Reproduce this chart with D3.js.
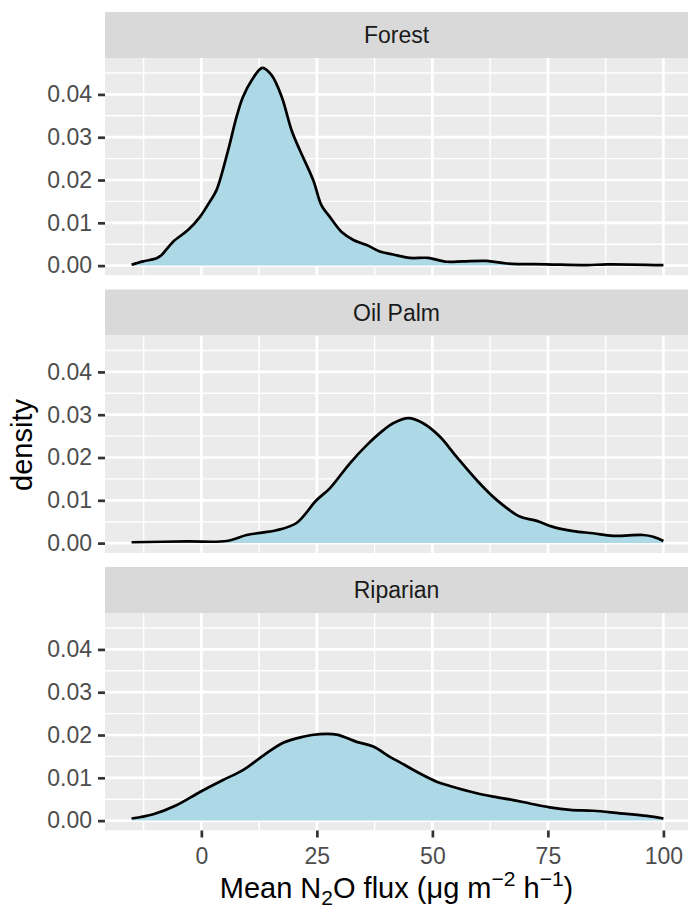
<!DOCTYPE html>
<html>
<head>
<meta charset="utf-8">
<script src="https://cdnjs.cloudflare.com/ajax/libs/d3/7.8.5/d3.min.js"></script>
<style>
  body { margin: 0; background: #fff; }
  svg { display: block; font-family: "Liberation Sans", Arial, sans-serif; }
</style>
</head>
<body>
<script>
//data (mean N2O flux vs density, one curve per land use)
const facets = ["Forest", "Oil Palm", "Riparian"];

const fluxForest = [-15.1, -12.6, -9.7, -8.6, -6.1, -2.9, -0.3, 1.8, 3.3, 5.8, 7.6, 9.0, 10.9, 13.2, 15.2, 17.4, 19.5, 21.3, 24.2, 26.0, 27.8, 30.3, 32.9, 35.8, 38.6, 41.5, 45.1, 49.1, 53.1, 56.7, 61.7, 66.1, 74.7, 83.4, 87.7, 100];
const densForest = [0.0002, 0.0010, 0.0017, 0.0025, 0.0056, 0.0083, 0.0114, 0.0149, 0.0177, 0.0270, 0.0347, 0.0394, 0.0433, 0.0462, 0.0445, 0.0394, 0.0317, 0.0270, 0.0200, 0.0141, 0.0114, 0.0079, 0.0060, 0.0048, 0.0033, 0.0026, 0.0018, 0.0018, 0.0009, 0.0010, 0.0011, 0.0005, 0.0003, 0.0001, 0.0003, 0.0001];

const fluxOilPalm = [-15.1, -3.2, 5.5, 9.8, 12.7, 16.3, 20.6, 24.9, 27.8, 32.1, 35.8, 39.4, 41.5, 44.8, 48.0, 51.6, 55.2, 59.6, 63.9, 68.9, 72.6, 76.1, 80.5, 84.8, 89.1, 95.6, 97.8, 100];
const densOilPalm = [0.0002, 0.0004, 0.0005, 0.0019, 0.0024, 0.0030, 0.0047, 0.0100, 0.0128, 0.0186, 0.0229, 0.0264, 0.0280, 0.0292, 0.0280, 0.0249, 0.0202, 0.0147, 0.0101, 0.0062, 0.0052, 0.0038, 0.0028, 0.0023, 0.0017, 0.0019, 0.0015, 0.0005];

const fluxRiparian = [-15.1, -10.4, -5.4, -0.3, 4.7, 9.0, 13.4, 17.7, 22.0, 25.6, 29.3, 33.6, 37.2, 40.8, 43.0, 47.3, 50.9, 53.8, 59.6, 63.2, 67.5, 71.1, 75.4, 79.8, 84.8, 90.6, 96.4, 100];
const densRiparian = [0.0005, 0.0015, 0.0036, 0.0067, 0.0095, 0.0118, 0.0152, 0.0182, 0.0196, 0.0202, 0.0201, 0.0184, 0.0173, 0.0149, 0.0136, 0.0110, 0.0091, 0.0081, 0.0064, 0.0056, 0.0048, 0.0040, 0.0031, 0.0025, 0.0023, 0.0017, 0.0011, 0.0005];

const xTicks = [0, 25, 50, 75, 100];
const xMinor = [-12.5, 12.5, 37.5, 62.5, 87.5];
const yTicks = [0, 0.01, 0.02, 0.03, 0.04];
const yMinor = [0.005, 0.015, 0.025, 0.035, 0.045];

//visual setup
const width = 688;
const height = 912;
const panelLeft = 105;
const panelRight = 690;
const firstTop = 12;
const stripH = 46;
const panelH = 217.5;
const gap = 14;

const series = [
  {name: facets[0], x: fluxForest, y: densForest},
  {name: facets[1], x: fluxOilPalm, y: densOilPalm},
  {name: facets[2], x: fluxRiparian, y: densRiparian}
];

let svgContainer = d3.select("body").append("svg")
  .attr("width", width)
  .attr("height", height);
let defs = svgContainer.append("defs");

//shared scales, with ggplot's 5% expansion
const allX = fluxForest.concat(fluxOilPalm, fluxRiparian);
const allY = densForest.concat(densOilPalm, densRiparian);
const xExt = d3.extent(allX);
const xPad = (xExt[1] - xExt[0]) * 0.05;
const yMax = d3.max(allY);
const yPad = yMax * 0.05;

const x = d3.scaleLinear()
  .domain([xExt[0] - xPad, xExt[1] + xPad])
  .range([panelLeft, panelRight]);

series.forEach(function(s, i){
  const stripTop = firstTop + i * (stripH + panelH + gap);
  const panelTop = stripTop + stripH;
  const panelBottom = panelTop + panelH;

  const y = d3.scaleLinear()
    .domain([-yPad, yMax + yPad])
    .range([panelBottom, panelTop]);

  //clip for this panel (absolute coords)
  defs.append("clipPath")
    .attr("id", "clip" + i)
    .append("rect")
      .attr("x", panelLeft).attr("y", panelTop)
      .attr("width", panelRight - panelLeft).attr("height", panelH);

  //strip
  svgContainer.append("rect")
    .attr("x", panelLeft).attr("y", stripTop)
    .attr("width", panelRight - panelLeft).attr("height", stripH)
    .style("fill", "#D9D9D9");
  svgContainer.append("text")
    .attr("x", (panelLeft + width) / 2)
    .attr("y", stripTop + stripH / 2)
    .attr("dy", "0.35em")
    .attr("text-anchor", "middle")
    .style("font-size", "23px")
    .style("fill", "#1A1A1A")
    .text(s.name);

  //panel and grid
  let inner = svgContainer.append("g").attr("clip-path", "url(#clip" + i + ")");

  inner.append("rect")
    .attr("x", panelLeft).attr("y", panelTop)
    .attr("width", panelRight - panelLeft).attr("height", panelH)
    .style("fill", "#EBEBEB");

  inner.selectAll(".ymin").data(yMinor).enter().append("line")
    .attr("x1", panelLeft).attr("x2", panelRight)
    .attr("y1", d => y(d)).attr("y2", d => y(d))
    .attr("stroke", "white").attr("stroke-width", 1.4);
  inner.selectAll(".xmin").data(xMinor).enter().append("line")
    .attr("y1", panelTop).attr("y2", panelBottom)
    .attr("x1", d => x(d)).attr("x2", d => x(d))
    .attr("stroke", "white").attr("stroke-width", 1.4);
  inner.selectAll(".ymaj").data(yTicks).enter().append("line")
    .attr("x1", panelLeft).attr("x2", panelRight)
    .attr("y1", d => y(d)).attr("y2", d => y(d))
    .attr("stroke", "white").attr("stroke-width", 2.7);
  inner.selectAll(".xmaj").data(xTicks).enter().append("line")
    .attr("y1", panelTop).attr("y2", panelBottom)
    .attr("x1", d => x(d)).attr("x2", d => x(d))
    .attr("stroke", "white").attr("stroke-width", 2.7);

  //density area + upper outline
  const pts = s.x.map((v, k) => [v, s.y[k]]);
  const area = d3.area()
    .x(d => x(d[0])).y0(y(0)).y1(d => y(d[1]))
    .curve(d3.curveCatmullRom);
  const line = d3.line()
    .x(d => x(d[0])).y(d => y(d[1]))
    .curve(d3.curveCatmullRom);

  inner.append("path")
    .attr("d", area(pts))
    .style("fill", "#ADD8E6");
  inner.append("path")
    .attr("d", line(pts))
    .style("fill", "none")
    .attr("stroke", "black")
    .attr("stroke-width", 2.7)
    .attr("stroke-linejoin", "round");

  //y axis
  let yAxis = svgContainer.append("g")
    .attr("transform", "translate(" + panelLeft + ",0)")
    .call(d3.axisLeft(y).tickValues(yTicks).tickFormat(d3.format(".2f")).tickSize(7).tickPadding(6));
  yAxis.select(".domain").remove();
  yAxis.selectAll("line").attr("stroke", "#333333").attr("stroke-width", 2.7);
  yAxis.selectAll("text").style("font-size", "23px").style("fill", "#4D4D4D")
    .style("font-family", "'Liberation Sans', Arial, sans-serif");

  //x axis only under the last panel
  if (i === series.length - 1) {
    let xAxis = svgContainer.append("g")
      .attr("transform", "translate(0," + panelBottom + ")")
      .call(d3.axisBottom(x).tickValues(xTicks).tickFormat(d3.format("d")).tickSize(7).tickPadding(10));
    xAxis.select(".domain").remove();
    xAxis.selectAll("line").attr("stroke", "#333333").attr("stroke-width", 2.7);
    xAxis.selectAll("text").style("font-size", "23px").style("fill", "#4D4D4D")
      .style("font-family", "'Liberation Sans', Arial, sans-serif");
  }
});

//axis titles
svgContainer.append("text")
  .attr("transform", "translate(" + 32 + "," + 445 + ") rotate(-90)")
  .attr("text-anchor", "middle")
  .style("font-size", "29px")
  .style("fill", "black")
  .text("density");

let xTitle = svgContainer.append("text")
  .attr("x", (panelLeft + width) / 2)
  .attr("y", 898)
  .attr("text-anchor", "middle")
  .style("font-size", "29px")
  .style("fill", "black");
xTitle.append("tspan").text("Mean N");
xTitle.append("tspan").attr("dy", 7).style("font-size", "21px").text("2");
xTitle.append("tspan").attr("dy", -7).text("O flux (\u03BCg m");
xTitle.append("tspan").attr("dy", -12).style("font-size", "21px").text("\u22122");
xTitle.append("tspan").attr("dy", 12).text(" h");
xTitle.append("tspan").attr("dy", -12).style("font-size", "21px").text("\u22121");
xTitle.append("tspan").attr("dy", 12).text(")");
</script>
</body>
</html>
